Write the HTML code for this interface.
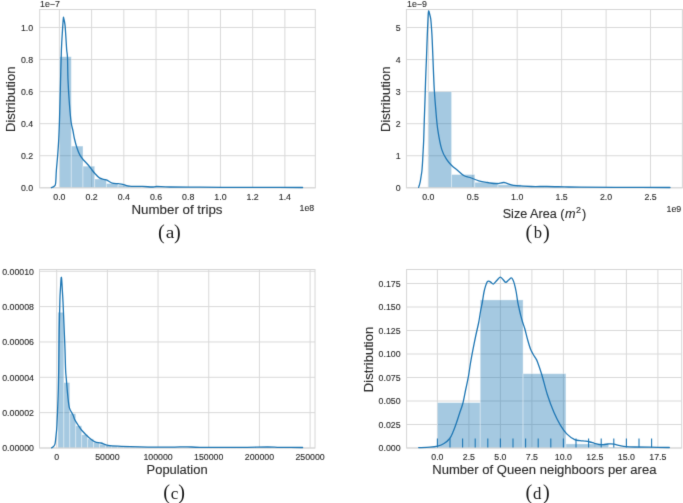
<!DOCTYPE html>
<html><head><meta charset="utf-8"><style>
html,body{margin:0;padding:0;background:#fff;width:683px;height:503px;overflow:hidden;}
svg{display:block;}

</style></head><body>
<svg width="683" height="503" viewBox="0 0 683 503">
<defs><filter id="bl" filterUnits="userSpaceOnUse" x="0" y="0" width="683" height="503" color-interpolation-filters="sRGB"><feConvolveMatrix order="3" kernelMatrix="0.0100 0.0800 0.0100 0.0800 0.6400 0.0800 0.0100 0.0800 0.0100" divisor="1" edgeMode="duplicate"/></filter></defs>
<g filter="url(#bl)">
<rect width="683" height="503" fill="#fff"/>
<g fill="#2b2b2b" stroke="#2b2b2b" stroke-width="0.12">
<line x1="59.40" y1="9.50" x2="59.40" y2="187.80" stroke="#d9d9d9" stroke-width="1"/>
<line x1="91.61" y1="9.50" x2="91.61" y2="187.80" stroke="#d9d9d9" stroke-width="1"/>
<line x1="123.82" y1="9.50" x2="123.82" y2="187.80" stroke="#d9d9d9" stroke-width="1"/>
<line x1="156.03" y1="9.50" x2="156.03" y2="187.80" stroke="#d9d9d9" stroke-width="1"/>
<line x1="188.24" y1="9.50" x2="188.24" y2="187.80" stroke="#d9d9d9" stroke-width="1"/>
<line x1="220.45" y1="9.50" x2="220.45" y2="187.80" stroke="#d9d9d9" stroke-width="1"/>
<line x1="252.66" y1="9.50" x2="252.66" y2="187.80" stroke="#d9d9d9" stroke-width="1"/>
<line x1="284.87" y1="9.50" x2="284.87" y2="187.80" stroke="#d9d9d9" stroke-width="1"/>
<line x1="39.70" y1="187.80" x2="315.30" y2="187.80" stroke="#d9d9d9" stroke-width="1"/>
<line x1="39.70" y1="155.73" x2="315.30" y2="155.73" stroke="#d9d9d9" stroke-width="1"/>
<line x1="39.70" y1="123.66" x2="315.30" y2="123.66" stroke="#d9d9d9" stroke-width="1"/>
<line x1="39.70" y1="91.59" x2="315.30" y2="91.59" stroke="#d9d9d9" stroke-width="1"/>
<line x1="39.70" y1="59.52" x2="315.30" y2="59.52" stroke="#d9d9d9" stroke-width="1"/>
<line x1="39.70" y1="27.45" x2="315.30" y2="27.45" stroke="#d9d9d9" stroke-width="1"/>
<rect x="59.60" y="56.70" width="11.70" height="131.10" fill="#1f77b4" fill-opacity="0.4" stroke="#fff" stroke-opacity="0.4" stroke-width="0.9"/>
<rect x="71.30" y="146.10" width="11.70" height="41.70" fill="#1f77b4" fill-opacity="0.4" stroke="#fff" stroke-opacity="0.4" stroke-width="0.9"/>
<rect x="83.00" y="166.20" width="11.70" height="21.60" fill="#1f77b4" fill-opacity="0.4" stroke="#fff" stroke-opacity="0.4" stroke-width="0.9"/>
<rect x="94.70" y="179.00" width="11.70" height="8.80" fill="#1f77b4" fill-opacity="0.4" stroke="#fff" stroke-opacity="0.4" stroke-width="0.9"/>
<rect x="106.40" y="183.50" width="11.70" height="4.30" fill="#1f77b4" fill-opacity="0.4" stroke="#fff" stroke-opacity="0.4" stroke-width="0.9"/>
<rect x="118.10" y="185.10" width="11.70" height="2.70" fill="#1f77b4" fill-opacity="0.4" stroke="#fff" stroke-opacity="0.4" stroke-width="0.9"/>
<rect x="129.80" y="186.20" width="11.70" height="1.60" fill="#1f77b4" fill-opacity="0.4" stroke="#fff" stroke-opacity="0.4" stroke-width="0.9"/>
<rect x="141.50" y="186.60" width="11.70" height="1.20" fill="#1f77b4" fill-opacity="0.4" stroke="#fff" stroke-opacity="0.4" stroke-width="0.9"/>
<rect x="153.20" y="187.00" width="11.70" height="0.80" fill="#1f77b4" fill-opacity="0.4" stroke="#fff" stroke-opacity="0.4" stroke-width="0.9"/>
<rect x="164.90" y="187.20" width="11.70" height="0.60" fill="#1f77b4" fill-opacity="0.4" stroke="#fff" stroke-opacity="0.4" stroke-width="0.9"/>
<rect x="176.60" y="187.40" width="11.70" height="0.40" fill="#1f77b4" fill-opacity="0.4" stroke="#fff" stroke-opacity="0.4" stroke-width="0.9"/>
<rect x="188.30" y="187.30" width="11.70" height="0.50" fill="#1f77b4" fill-opacity="0.4" stroke="#fff" stroke-opacity="0.4" stroke-width="0.9"/>
<rect x="200.00" y="187.50" width="11.70" height="0.30" fill="#1f77b4" fill-opacity="0.4" stroke="#fff" stroke-opacity="0.4" stroke-width="0.9"/>
<rect x="211.70" y="187.60" width="11.70" height="0.20" fill="#1f77b4" fill-opacity="0.4" stroke="#fff" stroke-opacity="0.4" stroke-width="0.9"/>
<rect x="223.40" y="187.60" width="11.70" height="0.20" fill="#1f77b4" fill-opacity="0.4" stroke="#fff" stroke-opacity="0.4" stroke-width="0.9"/>
<rect x="235.10" y="187.70" width="11.70" height="0.10" fill="#1f77b4" fill-opacity="0.4" stroke="#fff" stroke-opacity="0.4" stroke-width="0.9"/>
<rect x="246.80" y="187.60" width="11.70" height="0.20" fill="#1f77b4" fill-opacity="0.4" stroke="#fff" stroke-opacity="0.4" stroke-width="0.9"/>
<rect x="39.70" y="9.50" width="275.60" height="178.30" fill="none" stroke="#d6d6d6" stroke-width="1"/>
<path d="M51.40,187.60 C51.87,187.37 53.50,186.88 54.20,186.20 C54.90,185.52 55.23,186.20 55.60,183.50 C55.97,180.80 56.05,174.75 56.40,170.00 C56.75,165.25 57.32,160.00 57.70,155.00 C58.08,150.00 58.40,145.83 58.70,140.00 C59.00,134.17 59.23,128.33 59.50,120.00 C59.77,111.67 59.98,101.67 60.30,90.00 C60.62,78.33 61.03,60.00 61.40,50.00 C61.77,40.00 62.17,35.28 62.50,30.00 C62.83,24.72 63.14,20.22 63.35,18.30 C63.56,16.38 63.48,17.42 63.75,18.50 C64.03,19.58 64.66,21.88 65.00,24.80 C65.34,27.72 65.52,31.80 65.80,36.00 C66.08,40.20 66.42,46.38 66.70,50.00 C66.98,53.62 67.28,52.70 67.50,57.70 C67.72,62.70 67.67,72.12 68.00,80.00 C68.33,87.88 68.98,98.00 69.50,105.00 C70.02,112.00 70.52,117.67 71.10,122.00 C71.68,126.33 72.43,128.17 73.00,131.00 C73.57,133.83 73.83,136.17 74.50,139.00 C75.17,141.83 76.12,145.35 77.00,148.00 C77.88,150.65 78.72,152.90 79.80,154.90 C80.88,156.90 82.10,158.32 83.50,160.00 C84.90,161.68 86.78,163.33 88.20,165.00 C89.62,166.67 90.92,168.63 92.00,170.00 C93.08,171.37 93.47,171.88 94.70,173.20 C95.93,174.52 97.85,176.88 99.40,177.90 C100.95,178.92 102.73,178.92 104.00,179.30 C105.27,179.68 105.63,179.57 107.00,180.20 C108.37,180.83 110.35,182.52 112.20,183.10 C114.05,183.68 116.33,183.50 118.10,183.70 C119.87,183.90 121.05,183.90 122.80,184.30 C124.55,184.70 125.28,185.75 128.60,186.10 C131.92,186.45 138.80,186.25 142.70,186.40 C146.60,186.55 149.67,186.98 152.00,187.00 C154.33,187.02 153.70,186.50 156.70,186.50 C159.70,186.50 162.78,186.88 170.00,187.00 C177.22,187.12 190.00,187.15 200.00,187.20 C210.00,187.25 220.00,187.27 230.00,187.30 C240.00,187.33 247.90,187.37 260.00,187.40 C272.10,187.43 295.50,187.48 302.60,187.50" fill="none" stroke="#1f77b4" stroke-width="1.3" stroke-linejoin="round" stroke-linecap="round"/>
<text x="59.40" y="200.30" font-size="8.80" text-anchor="middle" font-family="Liberation Sans">0.0</text>
<text x="91.61" y="200.30" font-size="8.80" text-anchor="middle" font-family="Liberation Sans">0.2</text>
<text x="123.82" y="200.30" font-size="8.80" text-anchor="middle" font-family="Liberation Sans">0.4</text>
<text x="156.03" y="200.30" font-size="8.80" text-anchor="middle" font-family="Liberation Sans">0.6</text>
<text x="188.24" y="200.30" font-size="8.80" text-anchor="middle" font-family="Liberation Sans">0.8</text>
<text x="220.45" y="200.30" font-size="8.80" text-anchor="middle" font-family="Liberation Sans">1.0</text>
<text x="252.66" y="200.30" font-size="8.80" text-anchor="middle" font-family="Liberation Sans">1.2</text>
<text x="284.87" y="200.30" font-size="8.80" text-anchor="middle" font-family="Liberation Sans">1.4</text>
<text x="33.20" y="191.25" font-size="8.80" text-anchor="end" font-family="Liberation Sans">0.0</text>
<text x="33.20" y="159.18" font-size="8.80" text-anchor="end" font-family="Liberation Sans">0.2</text>
<text x="33.20" y="127.11" font-size="8.80" text-anchor="end" font-family="Liberation Sans">0.4</text>
<text x="33.20" y="95.04" font-size="8.80" text-anchor="end" font-family="Liberation Sans">0.6</text>
<text x="33.20" y="62.97" font-size="8.80" text-anchor="end" font-family="Liberation Sans">0.8</text>
<text x="33.20" y="30.90" font-size="8.80" text-anchor="end" font-family="Liberation Sans">1.0</text>
<line x1="428.30" y1="9.50" x2="428.30" y2="187.80" stroke="#d9d9d9" stroke-width="1"/>
<line x1="472.75" y1="9.50" x2="472.75" y2="187.80" stroke="#d9d9d9" stroke-width="1"/>
<line x1="517.20" y1="9.50" x2="517.20" y2="187.80" stroke="#d9d9d9" stroke-width="1"/>
<line x1="561.65" y1="9.50" x2="561.65" y2="187.80" stroke="#d9d9d9" stroke-width="1"/>
<line x1="606.10" y1="9.50" x2="606.10" y2="187.80" stroke="#d9d9d9" stroke-width="1"/>
<line x1="650.55" y1="9.50" x2="650.55" y2="187.80" stroke="#d9d9d9" stroke-width="1"/>
<line x1="406.40" y1="187.80" x2="682.40" y2="187.80" stroke="#d9d9d9" stroke-width="1"/>
<line x1="406.40" y1="155.75" x2="682.40" y2="155.75" stroke="#d9d9d9" stroke-width="1"/>
<line x1="406.40" y1="123.70" x2="682.40" y2="123.70" stroke="#d9d9d9" stroke-width="1"/>
<line x1="406.40" y1="91.65" x2="682.40" y2="91.65" stroke="#d9d9d9" stroke-width="1"/>
<line x1="406.40" y1="59.60" x2="682.40" y2="59.60" stroke="#d9d9d9" stroke-width="1"/>
<line x1="406.40" y1="27.55" x2="682.40" y2="27.55" stroke="#d9d9d9" stroke-width="1"/>
<rect x="428.40" y="91.70" width="23.20" height="96.10" fill="#1f77b4" fill-opacity="0.4" stroke="#fff" stroke-opacity="0.4" stroke-width="0.9"/>
<rect x="451.60" y="174.50" width="23.20" height="13.30" fill="#1f77b4" fill-opacity="0.4" stroke="#fff" stroke-opacity="0.4" stroke-width="0.9"/>
<rect x="474.80" y="182.30" width="23.20" height="5.50" fill="#1f77b4" fill-opacity="0.4" stroke="#fff" stroke-opacity="0.4" stroke-width="0.9"/>
<rect x="498.00" y="184.80" width="23.20" height="3.00" fill="#1f77b4" fill-opacity="0.4" stroke="#fff" stroke-opacity="0.4" stroke-width="0.9"/>
<rect x="521.20" y="186.00" width="23.20" height="1.80" fill="#1f77b4" fill-opacity="0.4" stroke="#fff" stroke-opacity="0.4" stroke-width="0.9"/>
<rect x="544.40" y="186.80" width="23.20" height="1.00" fill="#1f77b4" fill-opacity="0.4" stroke="#fff" stroke-opacity="0.4" stroke-width="0.9"/>
<rect x="567.60" y="187.00" width="23.20" height="0.80" fill="#1f77b4" fill-opacity="0.4" stroke="#fff" stroke-opacity="0.4" stroke-width="0.9"/>
<rect x="590.80" y="187.30" width="23.20" height="0.50" fill="#1f77b4" fill-opacity="0.4" stroke="#fff" stroke-opacity="0.4" stroke-width="0.9"/>
<rect x="614.00" y="187.40" width="23.20" height="0.40" fill="#1f77b4" fill-opacity="0.4" stroke="#fff" stroke-opacity="0.4" stroke-width="0.9"/>
<rect x="637.20" y="187.50" width="23.20" height="0.30" fill="#1f77b4" fill-opacity="0.4" stroke="#fff" stroke-opacity="0.4" stroke-width="0.9"/>
<rect x="660.40" y="187.60" width="23.20" height="0.20" fill="#1f77b4" fill-opacity="0.4" stroke="#fff" stroke-opacity="0.4" stroke-width="0.9"/>
<rect x="406.40" y="9.50" width="276.00" height="178.30" fill="none" stroke="#d6d6d6" stroke-width="1"/>
<path d="M418.60,187.30 C418.73,186.92 419.12,185.98 419.40,185.00 C419.68,184.02 419.98,183.07 420.30,181.40 C420.62,179.73 421.03,176.73 421.30,175.00 C421.57,173.27 421.70,173.00 421.90,171.00 C422.10,169.00 422.33,165.58 422.50,163.00 C422.67,160.42 422.70,159.33 422.90,155.50 C423.10,151.67 423.47,145.92 423.70,140.00 C423.93,134.08 424.08,126.67 424.30,120.00 C424.52,113.33 424.78,106.67 425.00,100.00 C425.22,93.33 425.37,86.67 425.60,80.00 C425.83,73.33 426.12,67.50 426.40,60.00 C426.68,52.50 427.00,42.50 427.30,35.00 C427.60,27.50 427.98,18.93 428.20,15.00 C428.42,11.07 428.47,12.00 428.60,11.40 C428.73,10.80 428.77,10.72 429.00,11.40 C429.23,12.08 429.70,14.15 430.00,15.50 C430.30,16.85 430.55,17.42 430.80,19.50 C431.05,21.58 431.27,24.58 431.50,28.00 C431.73,31.42 431.88,33.00 432.20,40.00 C432.52,47.00 433.05,61.67 433.40,70.00 C433.75,78.33 433.90,83.35 434.30,90.00 C434.70,96.65 435.22,103.27 435.80,109.90 C436.38,116.53 436.80,123.18 437.80,129.80 C438.80,136.42 440.30,144.63 441.80,149.60 C443.30,154.57 445.15,156.95 446.80,159.60 C448.45,162.25 449.88,163.68 451.70,165.50 C453.52,167.32 455.70,168.83 457.70,170.50 C459.70,172.17 461.65,174.33 463.70,175.50 C465.75,176.67 467.48,176.62 470.00,177.50 C472.52,178.38 475.87,179.97 478.80,180.80 C481.73,181.63 484.67,182.03 487.60,182.50 C490.53,182.97 493.67,183.60 496.40,183.60 C499.13,183.60 501.62,182.32 504.00,182.50 C506.38,182.68 508.67,184.18 510.70,184.70 C512.73,185.22 512.73,185.30 516.20,185.60 C519.67,185.90 526.37,186.35 531.50,186.50 C536.63,186.65 541.50,186.43 547.00,186.50 C552.50,186.57 559.00,186.78 564.50,186.90 C570.00,187.02 570.75,187.12 580.00,187.20 C589.25,187.28 605.00,187.35 620.00,187.40 C635.00,187.45 661.67,187.48 670.00,187.50" fill="none" stroke="#1f77b4" stroke-width="1.3" stroke-linejoin="round" stroke-linecap="round"/>
<text x="428.30" y="200.30" font-size="8.80" text-anchor="middle" font-family="Liberation Sans">0.0</text>
<text x="472.75" y="200.30" font-size="8.80" text-anchor="middle" font-family="Liberation Sans">0.5</text>
<text x="517.20" y="200.30" font-size="8.80" text-anchor="middle" font-family="Liberation Sans">1.0</text>
<text x="561.65" y="200.30" font-size="8.80" text-anchor="middle" font-family="Liberation Sans">1.5</text>
<text x="606.10" y="200.30" font-size="8.80" text-anchor="middle" font-family="Liberation Sans">2.0</text>
<text x="650.55" y="200.30" font-size="8.80" text-anchor="middle" font-family="Liberation Sans">2.5</text>
<text x="400.60" y="191.25" font-size="8.80" text-anchor="end" font-family="Liberation Sans">0</text>
<text x="400.60" y="159.20" font-size="8.80" text-anchor="end" font-family="Liberation Sans">1</text>
<text x="400.60" y="127.15" font-size="8.80" text-anchor="end" font-family="Liberation Sans">2</text>
<text x="400.60" y="95.10" font-size="8.80" text-anchor="end" font-family="Liberation Sans">3</text>
<text x="400.60" y="63.05" font-size="8.80" text-anchor="end" font-family="Liberation Sans">4</text>
<text x="400.60" y="31.00" font-size="8.80" text-anchor="end" font-family="Liberation Sans">5</text>
<line x1="56.70" y1="269.50" x2="56.70" y2="448.00" stroke="#d9d9d9" stroke-width="1"/>
<line x1="107.38" y1="269.50" x2="107.38" y2="448.00" stroke="#d9d9d9" stroke-width="1"/>
<line x1="158.06" y1="269.50" x2="158.06" y2="448.00" stroke="#d9d9d9" stroke-width="1"/>
<line x1="208.74" y1="269.50" x2="208.74" y2="448.00" stroke="#d9d9d9" stroke-width="1"/>
<line x1="259.42" y1="269.50" x2="259.42" y2="448.00" stroke="#d9d9d9" stroke-width="1"/>
<line x1="310.10" y1="269.50" x2="310.10" y2="448.00" stroke="#d9d9d9" stroke-width="1"/>
<line x1="39.50" y1="448.00" x2="315.00" y2="448.00" stroke="#d9d9d9" stroke-width="1"/>
<line x1="39.50" y1="412.65" x2="315.00" y2="412.65" stroke="#d9d9d9" stroke-width="1"/>
<line x1="39.50" y1="377.30" x2="315.00" y2="377.30" stroke="#d9d9d9" stroke-width="1"/>
<line x1="39.50" y1="341.95" x2="315.00" y2="341.95" stroke="#d9d9d9" stroke-width="1"/>
<line x1="39.50" y1="306.60" x2="315.00" y2="306.60" stroke="#d9d9d9" stroke-width="1"/>
<line x1="39.50" y1="271.25" x2="315.00" y2="271.25" stroke="#d9d9d9" stroke-width="1"/>
<rect x="57.90" y="312.30" width="5.95" height="135.70" fill="#1f77b4" fill-opacity="0.4" stroke="#fff" stroke-opacity="0.4" stroke-width="0.9"/>
<rect x="63.85" y="382.60" width="5.95" height="65.40" fill="#1f77b4" fill-opacity="0.4" stroke="#fff" stroke-opacity="0.4" stroke-width="0.9"/>
<rect x="69.80" y="413.70" width="5.95" height="34.30" fill="#1f77b4" fill-opacity="0.4" stroke="#fff" stroke-opacity="0.4" stroke-width="0.9"/>
<rect x="75.75" y="425.80" width="5.95" height="22.20" fill="#1f77b4" fill-opacity="0.4" stroke="#fff" stroke-opacity="0.4" stroke-width="0.9"/>
<rect x="81.70" y="434.70" width="5.95" height="13.30" fill="#1f77b4" fill-opacity="0.4" stroke="#fff" stroke-opacity="0.4" stroke-width="0.9"/>
<rect x="87.65" y="438.90" width="5.95" height="9.10" fill="#1f77b4" fill-opacity="0.4" stroke="#fff" stroke-opacity="0.4" stroke-width="0.9"/>
<rect x="93.60" y="442.40" width="5.95" height="5.60" fill="#1f77b4" fill-opacity="0.4" stroke="#fff" stroke-opacity="0.4" stroke-width="0.9"/>
<rect x="99.55" y="444.20" width="5.95" height="3.80" fill="#1f77b4" fill-opacity="0.4" stroke="#fff" stroke-opacity="0.4" stroke-width="0.9"/>
<rect x="105.50" y="445.30" width="5.95" height="2.70" fill="#1f77b4" fill-opacity="0.4" stroke="#fff" stroke-opacity="0.4" stroke-width="0.9"/>
<rect x="111.45" y="446.00" width="5.95" height="2.00" fill="#1f77b4" fill-opacity="0.4" stroke="#fff" stroke-opacity="0.4" stroke-width="0.9"/>
<rect x="117.40" y="446.30" width="5.95" height="1.70" fill="#1f77b4" fill-opacity="0.4" stroke="#fff" stroke-opacity="0.4" stroke-width="0.9"/>
<rect x="123.35" y="446.60" width="5.95" height="1.40" fill="#1f77b4" fill-opacity="0.4" stroke="#fff" stroke-opacity="0.4" stroke-width="0.9"/>
<rect x="129.30" y="446.90" width="5.95" height="1.10" fill="#1f77b4" fill-opacity="0.4" stroke="#fff" stroke-opacity="0.4" stroke-width="0.9"/>
<rect x="135.25" y="447.00" width="5.95" height="1.00" fill="#1f77b4" fill-opacity="0.4" stroke="#fff" stroke-opacity="0.4" stroke-width="0.9"/>
<rect x="141.20" y="447.10" width="5.95" height="0.90" fill="#1f77b4" fill-opacity="0.4" stroke="#fff" stroke-opacity="0.4" stroke-width="0.9"/>
<rect x="147.15" y="447.20" width="5.95" height="0.80" fill="#1f77b4" fill-opacity="0.4" stroke="#fff" stroke-opacity="0.4" stroke-width="0.9"/>
<rect x="153.10" y="447.20" width="5.95" height="0.80" fill="#1f77b4" fill-opacity="0.4" stroke="#fff" stroke-opacity="0.4" stroke-width="0.9"/>
<rect x="159.05" y="447.30" width="5.95" height="0.70" fill="#1f77b4" fill-opacity="0.4" stroke="#fff" stroke-opacity="0.4" stroke-width="0.9"/>
<rect x="165.00" y="447.30" width="5.95" height="0.70" fill="#1f77b4" fill-opacity="0.4" stroke="#fff" stroke-opacity="0.4" stroke-width="0.9"/>
<rect x="170.95" y="447.20" width="5.95" height="0.80" fill="#1f77b4" fill-opacity="0.4" stroke="#fff" stroke-opacity="0.4" stroke-width="0.9"/>
<rect x="176.90" y="447.40" width="5.95" height="0.60" fill="#1f77b4" fill-opacity="0.4" stroke="#fff" stroke-opacity="0.4" stroke-width="0.9"/>
<rect x="182.85" y="447.40" width="5.95" height="0.60" fill="#1f77b4" fill-opacity="0.4" stroke="#fff" stroke-opacity="0.4" stroke-width="0.9"/>
<rect x="188.80" y="447.50" width="5.95" height="0.50" fill="#1f77b4" fill-opacity="0.4" stroke="#fff" stroke-opacity="0.4" stroke-width="0.9"/>
<rect x="194.75" y="447.50" width="5.95" height="0.50" fill="#1f77b4" fill-opacity="0.4" stroke="#fff" stroke-opacity="0.4" stroke-width="0.9"/>
<rect x="200.70" y="447.50" width="5.95" height="0.50" fill="#1f77b4" fill-opacity="0.4" stroke="#fff" stroke-opacity="0.4" stroke-width="0.9"/>
<rect x="206.65" y="447.60" width="5.95" height="0.40" fill="#1f77b4" fill-opacity="0.4" stroke="#fff" stroke-opacity="0.4" stroke-width="0.9"/>
<rect x="212.60" y="447.60" width="5.95" height="0.40" fill="#1f77b4" fill-opacity="0.4" stroke="#fff" stroke-opacity="0.4" stroke-width="0.9"/>
<rect x="218.55" y="447.60" width="5.95" height="0.40" fill="#1f77b4" fill-opacity="0.4" stroke="#fff" stroke-opacity="0.4" stroke-width="0.9"/>
<rect x="224.50" y="447.60" width="5.95" height="0.40" fill="#1f77b4" fill-opacity="0.4" stroke="#fff" stroke-opacity="0.4" stroke-width="0.9"/>
<rect x="230.45" y="447.60" width="5.95" height="0.40" fill="#1f77b4" fill-opacity="0.4" stroke="#fff" stroke-opacity="0.4" stroke-width="0.9"/>
<rect x="236.40" y="447.60" width="5.95" height="0.40" fill="#1f77b4" fill-opacity="0.4" stroke="#fff" stroke-opacity="0.4" stroke-width="0.9"/>
<rect x="242.35" y="447.70" width="5.95" height="0.30" fill="#1f77b4" fill-opacity="0.4" stroke="#fff" stroke-opacity="0.4" stroke-width="0.9"/>
<rect x="248.30" y="447.70" width="5.95" height="0.30" fill="#1f77b4" fill-opacity="0.4" stroke="#fff" stroke-opacity="0.4" stroke-width="0.9"/>
<rect x="254.25" y="447.70" width="5.95" height="0.30" fill="#1f77b4" fill-opacity="0.4" stroke="#fff" stroke-opacity="0.4" stroke-width="0.9"/>
<rect x="260.20" y="447.70" width="5.95" height="0.30" fill="#1f77b4" fill-opacity="0.4" stroke="#fff" stroke-opacity="0.4" stroke-width="0.9"/>
<rect x="266.15" y="447.70" width="5.95" height="0.30" fill="#1f77b4" fill-opacity="0.4" stroke="#fff" stroke-opacity="0.4" stroke-width="0.9"/>
<rect x="272.10" y="447.80" width="5.95" height="0.20" fill="#1f77b4" fill-opacity="0.4" stroke="#fff" stroke-opacity="0.4" stroke-width="0.9"/>
<rect x="278.05" y="447.80" width="5.95" height="0.20" fill="#1f77b4" fill-opacity="0.4" stroke="#fff" stroke-opacity="0.4" stroke-width="0.9"/>
<rect x="284.00" y="447.80" width="5.95" height="0.20" fill="#1f77b4" fill-opacity="0.4" stroke="#fff" stroke-opacity="0.4" stroke-width="0.9"/>
<rect x="289.95" y="447.80" width="5.95" height="0.20" fill="#1f77b4" fill-opacity="0.4" stroke="#fff" stroke-opacity="0.4" stroke-width="0.9"/>
<rect x="39.50" y="269.50" width="275.50" height="178.50" fill="none" stroke="#d6d6d6" stroke-width="1"/>
<path d="M51.60,447.80 C51.92,447.58 52.92,447.20 53.50,446.50 C54.08,445.80 54.67,445.52 55.10,443.60 C55.53,441.68 55.80,437.97 56.10,435.00 C56.40,432.03 56.60,431.32 56.90,425.80 C57.20,420.28 57.67,407.87 57.90,401.90 C58.13,395.93 58.17,395.32 58.30,390.00 C58.43,384.68 58.55,380.00 58.70,370.00 C58.85,360.00 59.00,341.67 59.20,330.00 C59.40,318.33 59.68,307.00 59.90,300.00 C60.12,293.00 60.30,291.57 60.50,288.00 C60.70,284.43 60.96,280.32 61.10,278.60 C61.24,276.88 61.27,277.70 61.35,277.70 C61.43,277.70 61.46,276.88 61.60,278.60 C61.74,280.32 61.97,284.10 62.20,288.00 C62.43,291.90 62.67,295.00 63.00,302.00 C63.33,309.00 63.87,322.00 64.20,330.00 C64.53,338.00 64.77,343.33 65.00,350.00 C65.23,356.67 65.37,365.02 65.60,370.00 C65.83,374.98 66.05,375.75 66.40,379.90 C66.75,384.05 67.20,390.23 67.70,394.90 C68.20,399.57 68.53,404.60 69.40,407.90 C70.27,411.20 72.00,412.72 72.90,414.70 C73.80,416.68 73.95,418.08 74.80,419.80 C75.65,421.52 76.82,423.22 78.00,425.00 C79.18,426.78 80.05,428.38 81.90,430.50 C83.75,432.62 86.92,435.82 89.10,437.70 C91.28,439.58 93.02,440.92 95.00,441.80 C96.98,442.68 98.80,442.40 101.00,443.00 C103.20,443.60 104.82,444.85 108.20,445.40 C111.58,445.95 116.00,446.05 121.30,446.30 C126.60,446.55 131.88,446.75 140.00,446.90 C148.12,447.05 162.17,447.22 170.00,447.20 C177.83,447.18 182.00,446.78 187.00,446.80 C192.00,446.82 191.17,447.20 200.00,447.30 C208.83,447.40 228.72,447.45 240.00,447.40 C251.28,447.35 261.03,447.00 267.70,447.00 C274.37,447.00 274.18,447.32 280.00,447.40 C285.82,447.48 298.83,447.48 302.60,447.50" fill="none" stroke="#1f77b4" stroke-width="1.3" stroke-linejoin="round" stroke-linecap="round"/>
<text x="56.70" y="460.30" font-size="8.80" text-anchor="middle" font-family="Liberation Sans">0</text>
<text x="107.38" y="460.30" font-size="8.80" text-anchor="middle" font-family="Liberation Sans">50000</text>
<text x="158.06" y="460.30" font-size="8.80" text-anchor="middle" font-family="Liberation Sans">100000</text>
<text x="208.74" y="460.30" font-size="8.80" text-anchor="middle" font-family="Liberation Sans">150000</text>
<text x="259.42" y="460.30" font-size="8.80" text-anchor="middle" font-family="Liberation Sans">200000</text>
<text x="310.10" y="460.30" font-size="8.80" text-anchor="middle" font-family="Liberation Sans">250000</text>
<text x="34.00" y="451.45" font-size="8.80" text-anchor="end" font-family="Liberation Sans">0.00000</text>
<text x="34.00" y="416.10" font-size="8.80" text-anchor="end" font-family="Liberation Sans">0.00002</text>
<text x="34.00" y="380.75" font-size="8.80" text-anchor="end" font-family="Liberation Sans">0.00004</text>
<text x="34.00" y="345.40" font-size="8.80" text-anchor="end" font-family="Liberation Sans">0.00006</text>
<text x="34.00" y="310.05" font-size="8.80" text-anchor="end" font-family="Liberation Sans">0.00008</text>
<text x="34.00" y="274.70" font-size="8.80" text-anchor="end" font-family="Liberation Sans">0.00010</text>
<line x1="437.40" y1="269.50" x2="437.40" y2="448.00" stroke="#d9d9d9" stroke-width="1"/>
<line x1="468.90" y1="269.50" x2="468.90" y2="448.00" stroke="#d9d9d9" stroke-width="1"/>
<line x1="500.40" y1="269.50" x2="500.40" y2="448.00" stroke="#d9d9d9" stroke-width="1"/>
<line x1="531.90" y1="269.50" x2="531.90" y2="448.00" stroke="#d9d9d9" stroke-width="1"/>
<line x1="563.40" y1="269.50" x2="563.40" y2="448.00" stroke="#d9d9d9" stroke-width="1"/>
<line x1="594.90" y1="269.50" x2="594.90" y2="448.00" stroke="#d9d9d9" stroke-width="1"/>
<line x1="626.40" y1="269.50" x2="626.40" y2="448.00" stroke="#d9d9d9" stroke-width="1"/>
<line x1="657.90" y1="269.50" x2="657.90" y2="448.00" stroke="#d9d9d9" stroke-width="1"/>
<line x1="406.60" y1="448.00" x2="681.70" y2="448.00" stroke="#d9d9d9" stroke-width="1"/>
<line x1="406.60" y1="424.50" x2="681.70" y2="424.50" stroke="#d9d9d9" stroke-width="1"/>
<line x1="406.60" y1="401.00" x2="681.70" y2="401.00" stroke="#d9d9d9" stroke-width="1"/>
<line x1="406.60" y1="377.50" x2="681.70" y2="377.50" stroke="#d9d9d9" stroke-width="1"/>
<line x1="406.60" y1="354.00" x2="681.70" y2="354.00" stroke="#d9d9d9" stroke-width="1"/>
<line x1="406.60" y1="330.50" x2="681.70" y2="330.50" stroke="#d9d9d9" stroke-width="1"/>
<line x1="406.60" y1="307.00" x2="681.70" y2="307.00" stroke="#d9d9d9" stroke-width="1"/>
<line x1="406.60" y1="283.50" x2="681.70" y2="283.50" stroke="#d9d9d9" stroke-width="1"/>
<rect x="437.40" y="402.60" width="42.84" height="45.40" fill="#1f77b4" fill-opacity="0.4" stroke="#fff" stroke-opacity="0.4" stroke-width="0.9"/>
<rect x="480.24" y="299.90" width="42.84" height="148.10" fill="#1f77b4" fill-opacity="0.4" stroke="#fff" stroke-opacity="0.4" stroke-width="0.9"/>
<rect x="523.08" y="373.70" width="42.84" height="74.30" fill="#1f77b4" fill-opacity="0.4" stroke="#fff" stroke-opacity="0.4" stroke-width="0.9"/>
<rect x="565.92" y="443.90" width="42.84" height="4.10" fill="#1f77b4" fill-opacity="0.4" stroke="#fff" stroke-opacity="0.4" stroke-width="0.9"/>
<rect x="608.76" y="447.00" width="42.84" height="1.00" fill="#1f77b4" fill-opacity="0.4" stroke="#fff" stroke-opacity="0.4" stroke-width="0.9"/>
<line x1="437.40" y1="438.50" x2="437.40" y2="448.00" stroke="#1f77b4" stroke-width="1.1"/>
<line x1="450.00" y1="438.50" x2="450.00" y2="448.00" stroke="#1f77b4" stroke-width="1.1"/>
<line x1="462.60" y1="438.50" x2="462.60" y2="448.00" stroke="#1f77b4" stroke-width="1.1"/>
<line x1="475.20" y1="438.50" x2="475.20" y2="448.00" stroke="#1f77b4" stroke-width="1.1"/>
<line x1="487.80" y1="438.50" x2="487.80" y2="448.00" stroke="#1f77b4" stroke-width="1.1"/>
<line x1="500.40" y1="438.50" x2="500.40" y2="448.00" stroke="#1f77b4" stroke-width="1.1"/>
<line x1="513.00" y1="438.50" x2="513.00" y2="448.00" stroke="#1f77b4" stroke-width="1.1"/>
<line x1="525.60" y1="438.50" x2="525.60" y2="448.00" stroke="#1f77b4" stroke-width="1.1"/>
<line x1="538.20" y1="438.50" x2="538.20" y2="448.00" stroke="#1f77b4" stroke-width="1.1"/>
<line x1="550.80" y1="438.50" x2="550.80" y2="448.00" stroke="#1f77b4" stroke-width="1.1"/>
<line x1="563.40" y1="438.50" x2="563.40" y2="448.00" stroke="#1f77b4" stroke-width="1.1"/>
<line x1="576.00" y1="438.50" x2="576.00" y2="448.00" stroke="#1f77b4" stroke-width="1.1"/>
<line x1="588.60" y1="438.50" x2="588.60" y2="448.00" stroke="#1f77b4" stroke-width="1.1"/>
<line x1="601.20" y1="438.50" x2="601.20" y2="448.00" stroke="#1f77b4" stroke-width="1.1"/>
<line x1="613.80" y1="438.50" x2="613.80" y2="448.00" stroke="#1f77b4" stroke-width="1.1"/>
<line x1="626.40" y1="438.50" x2="626.40" y2="448.00" stroke="#1f77b4" stroke-width="1.1"/>
<line x1="639.00" y1="438.50" x2="639.00" y2="448.00" stroke="#1f77b4" stroke-width="1.1"/>
<line x1="651.60" y1="438.50" x2="651.60" y2="448.00" stroke="#1f77b4" stroke-width="1.1"/>
<rect x="406.60" y="269.50" width="275.10" height="178.50" fill="none" stroke="#d6d6d6" stroke-width="1"/>
<path d="M418.70,447.60 C420.58,447.53 426.83,447.45 430.00,447.20 C433.17,446.95 435.37,446.72 437.70,446.10 C440.03,445.48 442.00,444.77 444.00,443.50 C446.00,442.23 448.17,440.50 449.70,438.50 C451.23,436.50 452.10,434.05 453.20,431.50 C454.30,428.95 455.25,426.20 456.30,423.20 C457.35,420.20 458.42,416.78 459.50,413.50 C460.58,410.22 461.78,407.42 462.80,403.50 C463.82,399.58 464.68,394.38 465.60,390.00 C466.52,385.62 467.48,381.70 468.30,377.20 C469.12,372.70 469.77,367.38 470.50,363.00 C471.23,358.62 471.83,355.40 472.70,350.90 C473.57,346.40 474.70,340.73 475.70,336.00 C476.70,331.27 477.88,326.67 478.70,322.50 C479.52,318.33 479.98,314.45 480.60,311.00 C481.22,307.55 481.83,304.97 482.40,301.80 C482.97,298.63 483.47,294.65 484.00,292.00 C484.53,289.35 485.07,287.60 485.60,285.90 C486.13,284.20 486.67,282.60 487.20,281.80 C487.73,281.00 488.17,281.00 488.80,281.10 C489.43,281.20 490.22,281.92 491.00,282.40 C491.78,282.88 492.53,284.32 493.50,284.00 C494.47,283.68 495.68,281.63 496.80,280.50 C497.92,279.37 499.17,277.37 500.20,277.20 C501.23,277.03 502.07,278.63 503.00,279.50 C503.93,280.37 504.87,282.32 505.80,282.40 C506.73,282.48 507.68,280.75 508.60,280.00 C509.52,279.25 510.57,277.90 511.30,277.90 C512.03,277.90 512.47,278.93 513.00,280.00 C513.53,281.07 513.97,282.30 514.50,284.30 C515.03,286.30 515.67,289.08 516.20,292.00 C516.73,294.92 517.20,298.97 517.70,301.80 C518.20,304.63 518.67,306.62 519.20,309.00 C519.73,311.38 520.32,313.85 520.90,316.10 C521.48,318.35 522.05,320.38 522.70,322.50 C523.35,324.62 523.97,325.88 524.80,328.80 C525.63,331.72 526.75,336.63 527.70,340.00 C528.65,343.37 529.60,346.63 530.50,349.00 C531.40,351.37 532.27,352.70 533.10,354.20 C533.93,355.70 534.77,356.72 535.50,358.00 C536.23,359.28 536.43,359.07 537.50,361.90 C538.57,364.73 540.25,369.53 541.90,375.00 C543.55,380.47 545.40,388.50 547.40,394.70 C549.40,400.90 551.72,407.10 553.90,412.20 C556.08,417.30 558.32,421.65 560.50,425.30 C562.68,428.95 564.63,431.72 567.00,434.10 C569.37,436.48 572.53,438.52 574.70,439.60 C576.87,440.68 578.18,440.35 580.00,440.60 C581.82,440.85 583.93,440.87 585.60,441.10 C587.27,441.33 588.53,441.63 590.00,442.00 C591.47,442.37 592.90,442.88 594.40,443.30 C595.90,443.72 597.53,444.28 599.00,444.50 C600.47,444.72 601.70,444.68 603.20,444.60 C604.70,444.52 606.70,444.13 608.00,444.00 C609.30,443.87 609.98,443.77 611.00,443.80 C612.02,443.83 612.60,443.90 614.10,444.20 C615.60,444.50 618.02,445.20 620.00,445.60 C621.98,446.00 623.50,446.37 626.00,446.60 C628.50,446.83 631.00,446.90 635.00,447.00 C639.00,447.10 644.28,447.12 650.00,447.20 C655.72,447.28 666.08,447.45 669.30,447.50" fill="none" stroke="#1f77b4" stroke-width="1.3" stroke-linejoin="round" stroke-linecap="round"/>
<text x="437.40" y="460.30" font-size="8.80" text-anchor="middle" font-family="Liberation Sans">0.0</text>
<text x="468.90" y="460.30" font-size="8.80" text-anchor="middle" font-family="Liberation Sans">2.5</text>
<text x="500.40" y="460.30" font-size="8.80" text-anchor="middle" font-family="Liberation Sans">5.0</text>
<text x="531.90" y="460.30" font-size="8.80" text-anchor="middle" font-family="Liberation Sans">7.5</text>
<text x="563.40" y="460.30" font-size="8.80" text-anchor="middle" font-family="Liberation Sans">10.0</text>
<text x="594.90" y="460.30" font-size="8.80" text-anchor="middle" font-family="Liberation Sans">12.5</text>
<text x="626.40" y="460.30" font-size="8.80" text-anchor="middle" font-family="Liberation Sans">15.0</text>
<text x="657.90" y="460.30" font-size="8.80" text-anchor="middle" font-family="Liberation Sans">17.5</text>
<text x="400.60" y="451.45" font-size="8.80" text-anchor="end" font-family="Liberation Sans">0.000</text>
<text x="400.60" y="427.95" font-size="8.80" text-anchor="end" font-family="Liberation Sans">0.025</text>
<text x="400.60" y="404.45" font-size="8.80" text-anchor="end" font-family="Liberation Sans">0.050</text>
<text x="400.60" y="380.95" font-size="8.80" text-anchor="end" font-family="Liberation Sans">0.075</text>
<text x="400.60" y="357.45" font-size="8.80" text-anchor="end" font-family="Liberation Sans">0.100</text>
<text x="400.60" y="333.95" font-size="8.80" text-anchor="end" font-family="Liberation Sans">0.125</text>
<text x="400.60" y="310.45" font-size="8.80" text-anchor="end" font-family="Liberation Sans">0.150</text>
<text x="400.60" y="286.95" font-size="8.80" text-anchor="end" font-family="Liberation Sans">0.175</text>
<text x="40.00" y="6.90" font-size="8.80" text-anchor="start" font-family="Liberation Sans">1e−7</text>
<text x="407.00" y="6.90" font-size="8.80" text-anchor="start" font-family="Liberation Sans">1e−9</text>
<text x="314.20" y="211.20" font-size="8.80" text-anchor="end" font-family="Liberation Sans">1e8</text>
<text x="681.20" y="211.50" font-size="8.80" text-anchor="end" font-family="Liberation Sans">1e9</text>
<text x="177.00" y="213.90" font-size="12.30" text-anchor="middle" font-family="Liberation Sans" textLength="91.00" lengthAdjust="spacingAndGlyphs">Number of trips</text>
<text x="544.4" y="217.7" font-size="12.30" text-anchor="middle" font-family="Liberation Sans" textLength="83.5" lengthAdjust="spacingAndGlyphs">Size Area (<tspan font-style="italic" dx="0.4">m</tspan><tspan font-size="8.8" dx="0.6" dy="-4.6">2</tspan><tspan dx="0.8" dy="4.6">)</tspan></text>
<text x="177.10" y="474.00" font-size="12.30" text-anchor="middle" font-family="Liberation Sans" textLength="61.00" lengthAdjust="spacingAndGlyphs">Population</text>
<text x="544.40" y="474.00" font-size="12.30" text-anchor="middle" font-family="Liberation Sans" textLength="224.20" lengthAdjust="spacingAndGlyphs">Number of Queen neighboors per area</text>
<text transform="translate(14.9,99.3) rotate(-90)" x="0" y="0" font-size="13.20" text-anchor="middle" font-family="Liberation Sans" textLength="65.5" lengthAdjust="spacingAndGlyphs">Distribution</text>
<text transform="translate(389.9,99.3) rotate(-90)" x="0" y="0" font-size="13.20" text-anchor="middle" font-family="Liberation Sans" textLength="65.5" lengthAdjust="spacingAndGlyphs">Distribution</text>
<text transform="translate(372.5,359.4) rotate(-90)" x="0" y="0" font-size="13.20" text-anchor="middle" font-family="Liberation Sans" textLength="65.5" lengthAdjust="spacingAndGlyphs">Distribution</text>
</g><g fill="#1a1a1a">
<text x="161.50" y="238.90" font-size="20.30" text-anchor="middle" font-family="Liberation Serif">(</text>
<text x="177.40" y="238.90" font-size="20.30" text-anchor="middle" font-family="Liberation Serif">)</text>
<text x="170.10" y="238.20" font-size="17.00" text-anchor="middle" font-family="Liberation Serif" textLength="8.60" lengthAdjust="spacingAndGlyphs">a</text>
<text x="529.00" y="238.90" font-size="20.30" text-anchor="middle" font-family="Liberation Serif">(</text>
<text x="546.50" y="238.90" font-size="20.30" text-anchor="middle" font-family="Liberation Serif">)</text>
<text x="537.90" y="238.20" font-size="17.00" text-anchor="middle" font-family="Liberation Serif" textLength="8.30" lengthAdjust="spacingAndGlyphs">b</text>
<text x="166.70" y="499.20" font-size="20.30" text-anchor="middle" font-family="Liberation Serif">(</text>
<text x="181.60" y="499.20" font-size="20.30" text-anchor="middle" font-family="Liberation Serif">)</text>
<text x="174.50" y="498.50" font-size="17.00" text-anchor="middle" font-family="Liberation Serif" textLength="7.60" lengthAdjust="spacingAndGlyphs">c</text>
<text x="529.00" y="499.20" font-size="20.30" text-anchor="middle" font-family="Liberation Serif">(</text>
<text x="546.50" y="499.20" font-size="20.30" text-anchor="middle" font-family="Liberation Serif">)</text>
<text x="537.20" y="498.50" font-size="17.00" text-anchor="middle" font-family="Liberation Serif" textLength="8.40" lengthAdjust="spacingAndGlyphs">d</text>
</g>
</g>
</svg>
</body></html>
